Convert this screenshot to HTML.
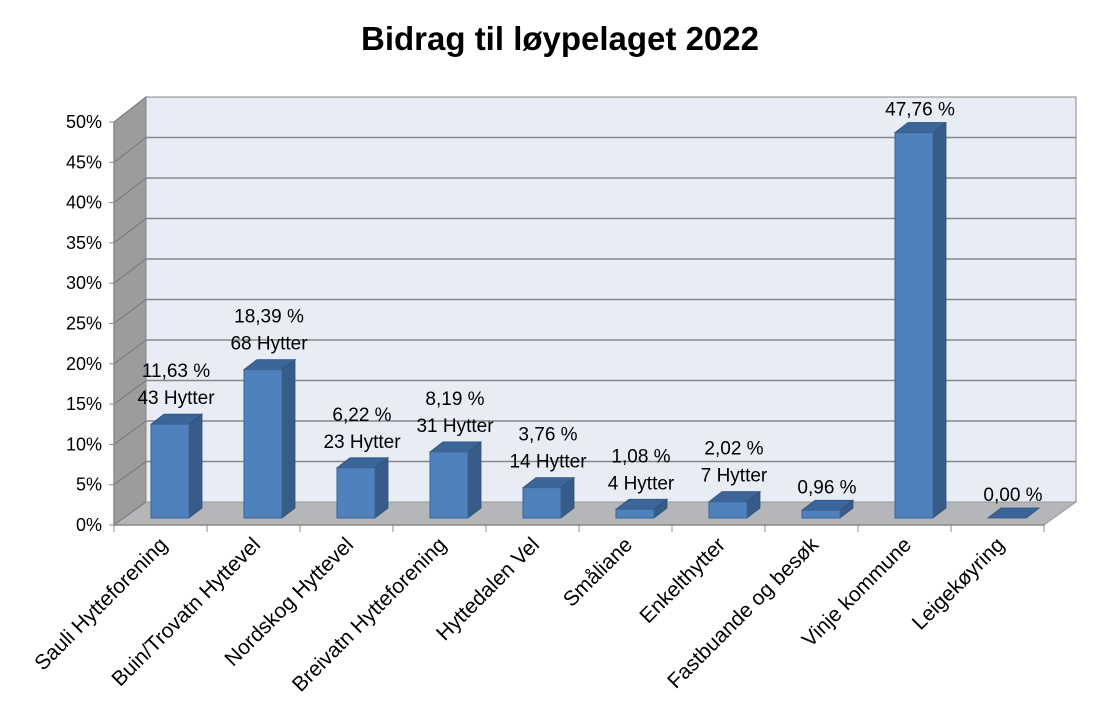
<!DOCTYPE html>
<html><head><meta charset="utf-8"><style>
body{margin:0;background:#fff;}
svg text{font-family:"Liberation Sans",sans-serif;}
</style></head><body>
<svg id="chart" width="1095" height="714" viewBox="0 0 1095 714" xmlns="http://www.w3.org/2000/svg">
<text x="560" y="50" text-anchor="middle" font-size="33" font-weight="bold" fill="#000">Bidrag til løypelaget 2022</text>
<polygon points="146,97 1076,97 1076,502 146,502" fill="#e8ecf5" stroke="#888" stroke-width="1"/>
<polygon points="114,122 146,97 146,502 114,525" fill="#9c9c9c" stroke="#888"/>
<polygon points="114,525 146,502 1076,502 1044,525" fill="#b4b6ba" stroke="#999"/>
<g id="grid"></g><g id="bars"></g><g id="labels"></g>
</svg>
<script>
const categories=["Sauli Hytteforening","Buin/Trovatn Hyttevel","Nordskog Hyttevel","Breivatn Hytteforening","Hyttedalen Vel","Småliane","Enkelthytter","Fastbuande og besøk","Vinje kommune","Leigekøyring"];
const values=[11.63,18.39,6.22,8.19,3.76,1.08,2.02,0.96,47.76,0.00];
const valueLabels=["11,63 %","18,39 %","6,22 %","8,19 %","3,76 %","1,08 %","2,02 %","0,96 %","47,76 %","0,00 %"];
const cabinLabels=["43 Hytter","68 Hytter","23 Hytter","31 Hytter","14 Hytter","4 Hytter","7 Hytter","","",""];
const yTicks=[0,5,10,15,20,25,30,35,40,45,50];
const NS="http://www.w3.org/2000/svg";
function mk(t,a,p){const e=document.createElementNS(NS,t);for(const k in a)e.setAttribute(k,a[k]);p.appendChild(e);return e;}
const yFront=v=>525-v*8.06, yBack=v=>502-v*8.1, yBar=v=>518-v*8.07;
const xCat=i=>114+i*93;
const grid=document.getElementById('grid'),bars=document.getElementById('bars'),labels=document.getElementById('labels');
yTicks.forEach(t=>{
 if(t>0&&t<50){const g=mk('line',{x1:146,x2:1076,y1:yBack(t),y2:yBack(t),stroke:'#888','stroke-width':1.5},grid);
 }
 const d=mk('line',{x1:114,x2:146,y1:yFront(t),y2:yBack(t),stroke:'#777','stroke-width':1},grid);
 
 const tk=mk('line',{x1:109,x2:114,y1:yFront(t),y2:yFront(t),stroke:'#888'},grid);
 
 const tx=mk('text',{x:102,y:yFront(t)+6,'text-anchor':'end','font-size':18},grid);tx.textContent=t+'%';
 
});
const ax=mk('line',{x1:114,x2:1044,y1:525,y2:525,stroke:'#888','stroke-width':1.5},grid);

const la=mk('line',{x1:114,x2:114,y1:122,y2:525,stroke:'#888','stroke-width':1.5},grid);

for(let i=0;i<=categories.length;i++){const tk=mk('line',{x1:xCat(i),x2:xCat(i),y1:525,y2:532,stroke:'#888'},grid);
 }
categories.forEach((c,i)=>{
 const x0=xCat(i)+37,w=38,dx=13,dy=10,yt=yBar(values[i]),yb=518;
 const g=mk('g',{},bars);
 mk('polygon',{points:`${x0+w},${yt} ${x0+w+dx},${yt-dy} ${x0+w+dx},${yb-dy} ${x0+w},${yb}`,fill:'#375c89',stroke:'#2f5077','stroke-width':0.8},g);
 mk('polygon',{points:`${x0},${yt} ${x0+dx},${yt-dy} ${x0+w+dx},${yt-dy} ${x0+w},${yt}`,fill:'#3c6599',stroke:'#2f5077','stroke-width':0.8},g);
 if(values[i]>0) mk('rect',{x:x0,y:yt,width:w,height:yb-yt,fill:'#4f81bd',stroke:'#3a6493','stroke-width':1},g);
 const cx=x0+w/2+6;
 const hasC=cabinLabels[i]!=="";
 const t1=mk('text',{x:cx,y:hasC?yt-47:yt-17,'text-anchor':'middle','font-size':19},labels);t1.textContent=valueLabels[i];
 
 if(hasC){const t2=mk('text',{x:cx,y:yt-20,'text-anchor':'middle','font-size':19},labels);t2.textContent=cabinLabels[i];
 }
 const ctr=xCat(i)+46.5+8;
 const cl=mk('text',{x:ctr,y:546,'text-anchor':'end','font-size':21,transform:`rotate(-45 ${ctr} 546)`},labels);cl.textContent=c;
 
});
</script>
</body></html>
